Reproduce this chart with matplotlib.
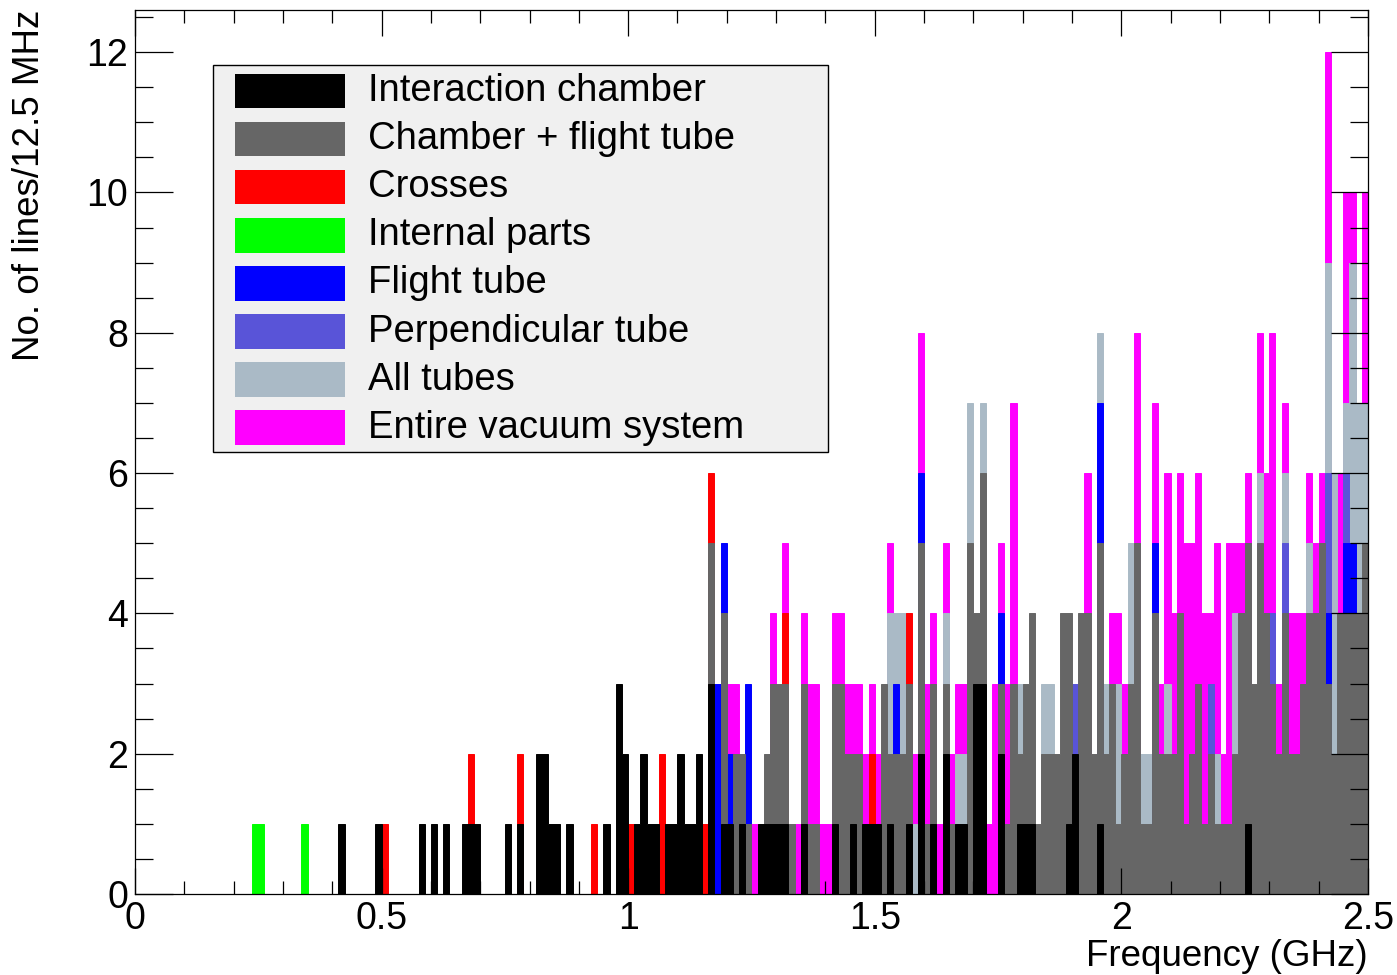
import numpy as np
import matplotlib
matplotlib.use('Agg')
import matplotlib.pyplot as plt
from matplotlib.patches import Rectangle
from matplotlib.ticker import MultipleLocator

plt.rcParams['font.family'] = ['Liberation Sans', 'DejaVu Sans']

# 200 bins of 12.5 MHz from 0 to 2.5 GHz, number of lines per bin
bin_width = 0.0125
n_bins = 200

interaction_chamber = [
    0, 0, 0, 0, 0, 0, 0, 0, 0, 0, 0, 0, 0, 0, 0, 0, 0, 0, 0, 0,
    0, 0, 0, 0, 0, 0, 0, 0, 0, 0, 0, 0, 0, 1, 0, 0, 0, 0, 0, 1,
    0, 0, 0, 0, 0, 0, 1, 0, 1, 0, 1, 0, 0, 1, 1, 1, 0, 0, 0, 0,
    1, 0, 1, 0, 0, 2, 2, 1, 1, 0, 1, 0, 0, 0, 0, 0, 1, 0, 3, 2,
    0, 1, 2, 1, 1, 0, 1, 1, 2, 1, 1, 2, 0, 3, 0, 1, 1, 0, 1, 0,
    0, 1, 1, 1, 1, 1, 0, 0, 1, 0, 0, 0, 0, 1, 0, 0, 1, 0, 1, 1,
    1, 0, 1, 0, 0, 1, 0, 2, 0, 1, 0, 2, 0, 1, 1, 0, 3, 3, 0, 0,
    2, 0, 0, 1, 1, 1, 0, 0, 0, 0, 0, 1, 2, 0, 0, 0, 1, 0, 0, 0,
    0, 0, 0, 0, 0, 0, 0, 0, 0, 0, 0, 0, 0, 0, 0, 0, 0, 0, 0, 0,
    1, 0, 0, 0, 0, 0, 0, 0, 0, 0, 0, 0, 0, 0, 0, 0, 0, 0, 0, 0,
]
chamber_flight_tube = [
    0, 0, 0, 0, 0, 0, 0, 0, 0, 0, 0, 0, 0, 0, 0, 0, 0, 0, 0, 0,
    0, 0, 0, 0, 0, 0, 0, 0, 0, 0, 0, 0, 0, 0, 0, 0, 0, 0, 0, 0,
    0, 0, 0, 0, 0, 0, 0, 0, 0, 0, 0, 0, 0, 0, 0, 0, 0, 0, 0, 0,
    0, 0, 0, 0, 0, 0, 0, 0, 0, 0, 0, 0, 0, 0, 0, 0, 0, 0, 0, 0,
    0, 0, 0, 0, 0, 0, 0, 0, 0, 0, 0, 0, 0, 5, 0, 4, 0, 2, 2, 1,
    0, 0, 2, 3, 3, 3, 1, 0, 3, 1, 1, 0, 0, 3, 3, 2, 2, 2, 0, 0,
    0, 3, 2, 2, 2, 3, 0, 5, 1, 3, 0, 3, 1, 0, 0, 5, 4, 6, 0, 0,
    3, 1, 3, 2, 3, 4, 1, 2, 2, 2, 4, 4, 0, 4, 4, 2, 5, 2, 3, 1,
    2, 3, 5, 1, 1, 4, 2, 2, 2, 4, 1, 2, 3, 1, 2, 1, 1, 1, 2, 4,
    5, 3, 5, 4, 3, 2, 4, 2, 2, 3, 4, 4, 5, 3, 2, 4, 4, 4, 4, 5,
]
crosses = [
    0, 0, 0, 0, 0, 0, 0, 0, 0, 0, 0, 0, 0, 0, 0, 0, 0, 0, 0, 0,
    0, 0, 0, 0, 0, 0, 0, 0, 0, 0, 0, 0, 0, 0, 0, 0, 0, 0, 0, 0,
    1, 0, 0, 0, 0, 0, 0, 0, 0, 0, 0, 0, 0, 0, 2, 0, 0, 0, 0, 0,
    0, 0, 2, 0, 0, 0, 0, 0, 0, 0, 0, 0, 0, 0, 1, 0, 0, 0, 0, 0,
    1, 0, 0, 0, 0, 2, 0, 0, 0, 0, 0, 0, 1, 6, 0, 0, 0, 0, 0, 0,
    0, 0, 0, 0, 0, 4, 0, 0, 0, 0, 0, 0, 0, 0, 0, 0, 0, 0, 0, 2,
    0, 0, 0, 0, 0, 4, 0, 0, 0, 0, 0, 0, 0, 0, 0, 0, 0, 0, 0, 0,
    0, 0, 0, 0, 0, 0, 0, 0, 0, 0, 0, 0, 0, 0, 0, 0, 0, 0, 0, 0,
    0, 0, 0, 0, 0, 0, 0, 0, 0, 0, 0, 0, 0, 0, 0, 0, 0, 0, 0, 0,
    0, 0, 0, 0, 0, 0, 0, 0, 0, 0, 0, 0, 0, 0, 0, 0, 0, 0, 0, 0,
]
internal_parts = [
    0, 0, 0, 0, 0, 0, 0, 0, 0, 0, 0, 0, 0, 0, 0, 0, 0, 0, 0, 1,
    1, 0, 0, 0, 0, 0, 0, 1, 0, 0, 0, 0, 0, 0, 0, 0, 0, 0, 0, 0,
    0, 0, 0, 0, 0, 0, 0, 0, 0, 0, 0, 0, 0, 0, 0, 0, 0, 0, 0, 0,
    0, 0, 0, 0, 0, 0, 0, 0, 0, 0, 0, 0, 0, 0, 0, 0, 0, 0, 0, 0,
    0, 0, 0, 0, 0, 0, 0, 0, 0, 0, 0, 0, 0, 0, 0, 0, 0, 0, 0, 0,
    0, 0, 0, 0, 0, 0, 0, 0, 0, 0, 0, 0, 0, 0, 0, 0, 0, 0, 0, 0,
    0, 0, 0, 0, 0, 0, 0, 0, 0, 0, 0, 0, 0, 0, 0, 0, 0, 0, 0, 0,
    0, 0, 0, 0, 0, 0, 0, 0, 0, 0, 0, 0, 0, 0, 0, 0, 0, 0, 0, 0,
    0, 0, 0, 0, 0, 0, 0, 0, 0, 0, 0, 0, 0, 0, 0, 0, 0, 0, 0, 0,
    0, 0, 0, 0, 0, 0, 0, 0, 0, 0, 0, 0, 0, 0, 0, 0, 0, 0, 0, 0,
]
flight_tube = [
    0, 0, 0, 0, 0, 0, 0, 0, 0, 0, 0, 0, 0, 0, 0, 0, 0, 0, 0, 0,
    0, 0, 0, 0, 0, 0, 0, 0, 0, 0, 0, 0, 0, 0, 0, 0, 0, 0, 0, 0,
    0, 0, 0, 0, 0, 0, 0, 0, 0, 0, 0, 0, 0, 0, 0, 0, 0, 0, 0, 0,
    0, 0, 0, 0, 0, 0, 0, 0, 0, 0, 0, 0, 0, 0, 0, 0, 0, 0, 0, 0,
    0, 0, 0, 0, 0, 0, 0, 0, 0, 0, 0, 0, 0, 0, 3, 5, 2, 0, 0, 3,
    0, 0, 0, 0, 0, 0, 0, 0, 0, 0, 0, 0, 0, 0, 0, 0, 0, 0, 0, 0,
    0, 0, 0, 3, 0, 0, 0, 6, 0, 0, 0, 0, 0, 0, 0, 0, 0, 0, 0, 0,
    4, 0, 0, 0, 0, 0, 0, 0, 0, 0, 0, 0, 0, 0, 0, 0, 7, 0, 0, 0,
    0, 0, 0, 0, 0, 5, 0, 0, 0, 0, 0, 0, 0, 0, 0, 0, 0, 0, 0, 0,
    0, 0, 0, 0, 0, 0, 0, 0, 0, 0, 0, 0, 0, 4, 0, 0, 5, 5, 0, 0,
]
perpendicular_tube = [
    0, 0, 0, 0, 0, 0, 0, 0, 0, 0, 0, 0, 0, 0, 0, 0, 0, 0, 0, 0,
    0, 0, 0, 0, 0, 0, 0, 0, 0, 0, 0, 0, 0, 0, 0, 0, 0, 0, 0, 0,
    0, 0, 0, 0, 0, 0, 0, 0, 0, 0, 0, 0, 0, 0, 0, 0, 0, 0, 0, 0,
    0, 0, 0, 0, 0, 0, 0, 0, 0, 0, 0, 0, 0, 0, 0, 0, 0, 0, 0, 0,
    0, 0, 0, 0, 0, 0, 0, 0, 0, 0, 0, 0, 0, 0, 0, 0, 0, 0, 0, 0,
    0, 0, 0, 0, 0, 0, 0, 0, 0, 0, 0, 0, 0, 0, 0, 0, 0, 0, 0, 0,
    0, 0, 0, 0, 0, 0, 0, 0, 0, 0, 0, 0, 0, 0, 0, 0, 0, 0, 0, 0,
    0, 0, 0, 0, 0, 0, 0, 0, 0, 0, 0, 0, 3, 0, 0, 0, 0, 0, 0, 0,
    0, 0, 0, 0, 0, 0, 0, 0, 0, 0, 0, 0, 0, 0, 3, 0, 0, 0, 0, 0,
    0, 0, 0, 0, 4, 0, 5, 0, 0, 0, 0, 0, 0, 6, 0, 0, 6, 0, 0, 0,
]
all_tubes = [
    0, 0, 0, 0, 0, 0, 0, 0, 0, 0, 0, 0, 0, 0, 0, 0, 0, 0, 0, 0,
    0, 0, 0, 0, 0, 0, 0, 0, 0, 0, 0, 0, 0, 0, 0, 0, 0, 0, 0, 0,
    0, 0, 0, 0, 0, 0, 0, 0, 0, 0, 0, 0, 0, 0, 0, 0, 0, 0, 0, 0,
    0, 0, 0, 0, 0, 0, 0, 0, 0, 0, 0, 0, 0, 0, 0, 0, 0, 0, 0, 0,
    0, 0, 0, 0, 0, 0, 0, 0, 0, 0, 0, 0, 0, 0, 0, 0, 0, 0, 0, 0,
    0, 0, 0, 0, 0, 0, 0, 0, 0, 0, 0, 0, 0, 0, 0, 0, 0, 0, 0, 0,
    0, 0, 4, 4, 4, 0, 1, 0, 0, 0, 0, 4, 0, 2, 2, 7, 0, 7, 0, 0,
    0, 0, 0, 3, 0, 0, 0, 3, 3, 0, 0, 0, 0, 0, 0, 0, 8, 3, 0, 3,
    0, 5, 0, 2, 2, 0, 0, 3, 0, 0, 0, 0, 0, 0, 0, 2, 0, 0, 4, 0,
    0, 0, 6, 0, 0, 0, 6, 0, 0, 0, 5, 0, 0, 9, 6, 0, 7, 9, 7, 7,
]
entire_system = [
    0, 0, 0, 0, 0, 0, 0, 0, 0, 0, 0, 0, 0, 0, 0, 0, 0, 0, 0, 0,
    0, 0, 0, 0, 0, 0, 0, 0, 0, 0, 0, 0, 0, 0, 0, 0, 0, 0, 0, 0,
    0, 0, 0, 0, 0, 0, 0, 0, 0, 0, 0, 0, 0, 0, 0, 0, 0, 0, 0, 0,
    0, 0, 0, 0, 0, 0, 0, 0, 0, 0, 0, 0, 0, 0, 0, 0, 0, 0, 0, 0,
    0, 0, 0, 0, 0, 0, 0, 0, 0, 0, 0, 0, 0, 0, 0, 0, 3, 3, 0, 0,
    1, 0, 0, 4, 0, 5, 0, 1, 4, 3, 3, 1, 1, 4, 4, 3, 3, 3, 2, 3,
    2, 0, 5, 0, 0, 0, 2, 8, 3, 4, 1, 5, 2, 3, 3, 0, 0, 0, 1, 3,
    5, 3, 7, 0, 0, 0, 0, 0, 0, 0, 0, 0, 0, 0, 6, 0, 0, 0, 4, 4,
    3, 0, 8, 0, 0, 7, 3, 6, 4, 6, 5, 5, 6, 4, 4, 5, 2, 5, 5, 5,
    6, 0, 8, 6, 8, 3, 7, 4, 4, 4, 6, 5, 6, 12, 0, 6, 10, 10, 0, 10,
]

labels = ['Interaction chamber', 'Chamber + flight tube', 'Crosses', 'Internal parts',
          'Flight tube', 'Perpendicular tube', 'All tubes', 'Entire vacuum system']
series = [interaction_chamber, chamber_flight_tube, crosses, internal_parts,
          flight_tube, perpendicular_tube, all_tubes, entire_system]
colors = ['#000000', '#666666', '#ff0000', '#00ff00',
          '#0000ff', '#5954d8', '#aabac6', '#ff00ff']

edges = np.arange(n_bins + 1) * bin_width

fig = plt.figure(figsize=(13.97, 9.75), dpi=100)
ax = fig.add_axes([0.0966, 0.0831, 0.8826, 0.9066])

# histograms are overlaid, the biggest one is drawn first
for vals, col in reversed(list(zip(series, colors))):
    ax.stairs(vals, edges, fill=True, facecolor=col, edgecolor=col, linewidth=0.7)

ax.set_xlim(0, 2.5)
ax.set_ylim(0, 12.6)
ax.xaxis.set_major_locator(MultipleLocator(0.5))
ax.xaxis.set_minor_locator(MultipleLocator(0.1))
ax.yaxis.set_major_locator(MultipleLocator(2))
ax.yaxis.set_minor_locator(MultipleLocator(0.5))
ax.xaxis.set_major_formatter(plt.FuncFormatter(lambda v, p: f'{v:g}'))
ax.tick_params(which='both', direction='in', top=True, right=True, width=0.9,
               labelsize=27, colors='black')
ax.tick_params(axis='x', which='major', length=19, pad=5)
ax.tick_params(axis='x', which='minor', length=9.5)
ax.tick_params(axis='y', which='major', length=27, pad=5)
ax.tick_params(axis='y', which='minor', length=13)
for s in ax.spines.values():
    s.set_linewidth(0.9)

ax.set_xlabel('Frequency (GHz)', fontsize=26.5, loc='right')
ax.xaxis.set_label_coords(1.0, -0.051)
ax.set_ylabel('No. of lines/12.5 MHz', fontsize=26.5, loc='top')
ax.yaxis.set_label_coords(-0.071, 1.0)

# legend box drawn by hand in axes fractions
ax.add_patch(Rectangle((0.0633, 0.5), 0.4988, 0.438, transform=ax.transAxes,
                       facecolor='#f0f0f0', edgecolor='black', linewidth=1.0, zorder=5))
row0 = (894 - 91) / 884
step = 48.1 / 884
for k, (lab, col) in enumerate(zip(labels, colors)):
    yc = row0 - k * step
    ax.add_patch(Rectangle((0.081, yc - 0.0195), 0.089, 0.039, transform=ax.transAxes,
                           facecolor=col, edgecolor='none', zorder=6))
    ax.text(0.189, yc, lab, transform=ax.transAxes, fontsize=27.5,
            va='center', ha='left', zorder=6)

fig.savefig('out.png', dpi=100)
